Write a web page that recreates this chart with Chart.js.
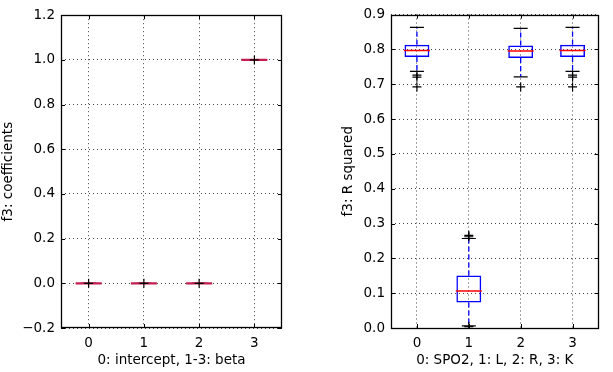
<!DOCTYPE html>
<html>
<head>
<meta charset="utf-8">
<script src="https://cdn.jsdelivr.net/npm/chart.js@4.4.0/dist/chart.umd.min.js"></script>
<style>
body { margin: 0; background: #fff; }
#left { position: absolute; left: 0; top: 0; }
#right { position: absolute; left: 320px; top: 0; }
</style>
</head>
<body>
<canvas id="left" width="300" height="372"></canvas>
<canvas id="right" width="293" height="372"></canvas>
<script>
// left panel: f3 coefficients
const coefCats = ['0', '1', '2', '3'];
const coefQ1 = [0, 0, 0, 1];
const coefMed = [0, 0, 0, 1];
const coefQ3 = [0, 0, 0, 1];
const coefLo = [0, 0, 0, 1];
const coefHi = [0, 0, 0, 1];
const coefOut = [[0], [0], [0], [1]];
const coefTicks = [-0.2, 0.0, 0.2, 0.4, 0.6, 0.8, 1.0, 1.2];

// right panel: f3 R squared
const r2Cats = ['0', '1', '2', '3'];
const r2Q1 = [0.778, 0.073, 0.775, 0.778];
const r2Med = [0.797, 0.106, 0.795, 0.797];
const r2Q3 = [0.813, 0.151, 0.811, 0.813];
const r2Lo = [0.737, 0.006, 0.721, 0.737];
const r2Hi = [0.863, 0.257, 0.860, 0.863];
const r2Out = [[0.726, 0.720, 0.692], [0.266, 0.262, 0.004], [0.692], [0.726, 0.720, 0.692]];
const r2Ticks = [0.0, 0.1, 0.2, 0.3, 0.4, 0.5, 0.6, 0.7, 0.8, 0.9];

Chart.defaults.font.family = 'DejaVu Sans';
Chart.defaults.font.size = 13.5;
Chart.defaults.color = '#000';

// frame round the plot area + matplotlib style inward ticks
const framePlugin = {
    id: 'frame',
    afterDraw(chart) {
        const ctx = chart.ctx;
        const a = chart.chartArea;
        const x = chart.scales.x, y = chart.scales.y;
        ctx.save();
        ctx.strokeStyle = '#000';
        ctx.lineWidth = 1;
        y.ticks.forEach((t, i) => {
            const py = Math.round(y.getPixelForTick(i)) + 0.5;
            ctx.beginPath();
            ctx.moveTo(a.left, py); ctx.lineTo(a.left + 4, py);
            ctx.moveTo(a.right, py); ctx.lineTo(a.right - 4, py);
            ctx.stroke();
        });
        x.ticks.forEach((t, i) => {
            const px = Math.round(x.getPixelForValue(i)) + 0.5;
            ctx.beginPath();
            ctx.moveTo(px, a.bottom); ctx.lineTo(px, a.bottom - 4);
            ctx.moveTo(px, a.top); ctx.lineTo(px, a.top + 4);
            ctx.stroke();
        });
        ctx.lineWidth = 1.3;
        ctx.strokeRect(Math.round(a.left) + 0.5, Math.round(a.top) + 0.5,
            Math.round(a.right - a.left) - 1, Math.round(a.bottom - a.top) - 1);
        ctx.restore();
    }
};

function tickText(v) {
    return v < 0 ? '\u2212' + Math.abs(v).toFixed(1) : v.toFixed(1);
}

function makeBoxChart(id, p) {
    const whisk = [], caps = [], meds = [], fliers = [];
    p.cats.forEach((c, i) => {
        whisk.push({x: c, y: p.q3[i]}, {x: c, y: p.hi[i]}, {x: c, y: null},
                   {x: c, y: p.q1[i]}, {x: c, y: p.lo[i]}, {x: c, y: null});
        caps.push({x: c, y: p.lo[i]}, {x: c, y: p.hi[i]});
        meds.push({x: c, y: p.med[i]});
        p.out[i].forEach(v => fliers.push({x: c, y: v}));
    });

    return new Chart(document.getElementById(id), {
        type: 'bar',
        data: {
            labels: p.cats,
            datasets: [
                {
                    type: 'line', data: whisk, order: 5,
                    borderColor: '#0000ff', borderWidth: 1.3, borderDash: [5, 3],
                    pointRadius: 0, spanGaps: false
                },
                {
                    type: 'line', data: caps, order: 4, showLine: false,
                    pointStyle: 'line', pointRadius: 7, borderColor: '#000', borderWidth: 1.2
                },
                {
                    type: 'bar', data: p.cats.map((c, i) => [p.q1[i], p.q3[i]]), order: 3,
                    backgroundColor: 'rgba(0,0,0,0)', borderColor: '#0000ff', borderWidth: 1.5,
                    borderSkipped: false, barPercentage: 0.48, categoryPercentage: 1
                },
                {
                    type: 'line', data: meds, order: 2, showLine: false,
                    pointStyle: 'line', pointRadius: 13, borderColor: p.medColor, borderWidth: p.medWidth
                },
                {
                    type: 'line', data: fliers, order: 1, showLine: false,
                    pointStyle: 'cross', pointRadius: 4.5, borderColor: '#000', borderWidth: 1.2
                }
            ]
        },
        options: {
            responsive: false,
            animation: false,
            layout: { padding: p.pad },
            plugins: { legend: { display: false }, tooltip: { enabled: false } },
            scales: {
                x: {
                    offset: true,
                    grid: { offset: false, drawTicks: false, color: '#444', lineWidth: 1 },
                    border: { display: false, dash: [1, 3] },
                    ticks: { padding: 7 },
                    title: { display: true, text: p.xTitle, padding: { top: 0, bottom: 3 } },
                    afterFit: s => { s.height = 44; }
                },
                y: {
                    min: p.ticks[0], max: p.ticks[p.ticks.length - 1],
                    grid: { drawTicks: false, color: '#444', lineWidth: 1 },
                    border: { display: false, dash: [1, 3] },
                    ticks: { padding: 6, callback: v => tickText(v) },
                    afterBuildTicks: s => { s.ticks = p.ticks.map(v => ({ value: v })); },
                    title: { display: true, text: p.yTitle, padding: { top: 0, bottom: 0 } },
                    afterFit: s => { s.width = p.yWidth; }
                }
            }
        },
        plugins: [framePlugin]
    });
}

makeBoxChart('left', {
    cats: coefCats, q1: coefQ1, med: coefMed, q3: coefQ3, lo: coefLo, hi: coefHi, out: coefOut,
    ticks: coefTicks, xTitle: '0: intercept, 1-3: beta', yTitle: 'f3: coefficients',
    medColor: '#c41d50', medWidth: 2.2, yWidth: 61,
    pad: { left: 0, top: 12, right: 18, bottom: 0 }
});

makeBoxChart('right', {
    cats: r2Cats, q1: r2Q1, med: r2Med, q3: r2Q3, lo: r2Lo, hi: r2Hi, out: r2Out,
    ticks: r2Ticks, xTitle: '0: SPO2, 1: L, 2: R, 3: K', yTitle: 'f3: R squared',
    medColor: '#ff0000', medWidth: 1.5, yWidth: 51,
    pad: { left: 20, top: 12, right: 6, bottom: 0 }
});
</script>
</body>
</html>
